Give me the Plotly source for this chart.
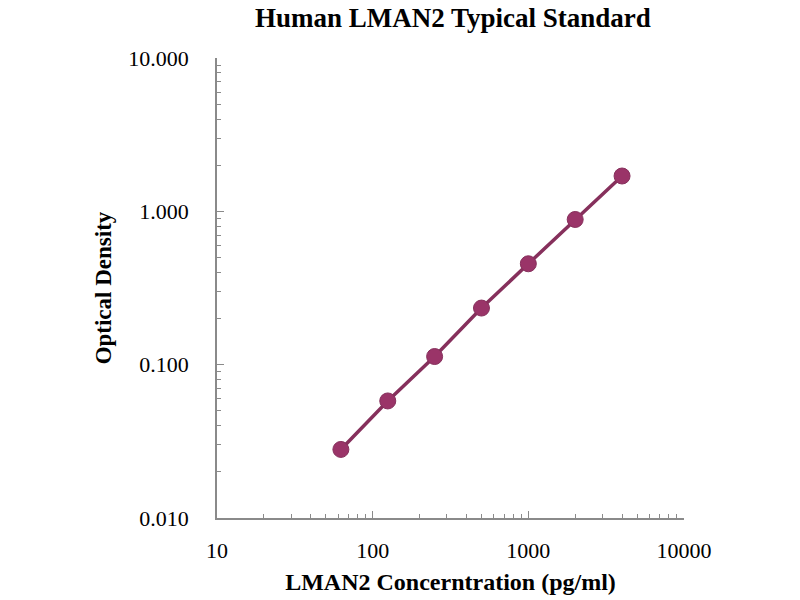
import plotly.graph_objects as go

concentration = [62.5, 125, 250, 500, 1000, 2000, 4000]
optical_density = [0.028, 0.058, 0.113, 0.234, 0.455, 0.885, 1.70]

x_ticks = [10, 100, 1000, 10000]
x_tick_labels = ["10", "100", "1000", "10000"]
y_ticks = [0.01, 0.1, 1, 10]
y_tick_labels = ["0.010", "0.100", "1.000", "10.000"]

x_minor = [m * d for d in [10, 100, 1000] for m in range(2, 10)]
y_minor = [m * d for d in [0.01, 0.1, 1] for m in range(2, 10)]

font_family = "Liberation Serif, Times New Roman, serif"
axis_color = "#8a8a8a"

fig = go.Figure()
fig.add_trace(go.Scatter(
    x=concentration, y=optical_density, mode="lines+markers",
    line=dict(color="#86305c", width=3.5),
    marker=dict(color="#9a3468", size=16, line=dict(color="#86305c", width=1)),
    showlegend=False,
))

fig.update_layout(
    width=800, height=600,
    margin=dict(l=217, r=116, t=58, b=82, autoexpand=False),
    paper_bgcolor="white", plot_bgcolor="white",
    font=dict(family=font_family, color="black", size=22),
    title=dict(text="<b>Human LMAN2 Typical Standard</b>", xref="container", x=0.566,
               xanchor="center", yref="container", y=1 - 8 / 600, yanchor="top",
               font=dict(size=27, family=font_family)),
)
fig.update_xaxes(
    type="log", range=[1, 4],
    tickvals=x_ticks, ticktext=x_tick_labels,
    ticks="inside", ticklen=7, tickcolor=axis_color,
    minor=dict(tickvals=x_minor, ticks="inside", ticklen=4, tickcolor=axis_color, showgrid=False),
    showline=True, linecolor=axis_color, linewidth=1.5,
    showgrid=False, zeroline=False,
    tickfont=dict(size=22), ticklabelstandoff=12,
    title=dict(text="<b>LMAN2 Concerntration (pg/ml)</b>", font=dict(size=24), standoff=11),
)
fig.update_yaxes(
    type="log", range=[-2, 1],
    tickvals=y_ticks, ticktext=y_tick_labels,
    ticks="inside", ticklen=7, tickcolor=axis_color,
    minor=dict(tickvals=y_minor, ticks="inside", ticklen=4, tickcolor=axis_color, showgrid=False),
    showline=True, linecolor=axis_color, linewidth=1.5,
    showgrid=False, zeroline=False,
    tickfont=dict(size=22), ticklabelstandoff=22,
    title=dict(text="<b>Optical Density</b>", font=dict(size=23), standoff=10),
)

fig.write_html("out.html", config={"displayModeBar": False},
               post_script="document.body.style.margin='0';")
